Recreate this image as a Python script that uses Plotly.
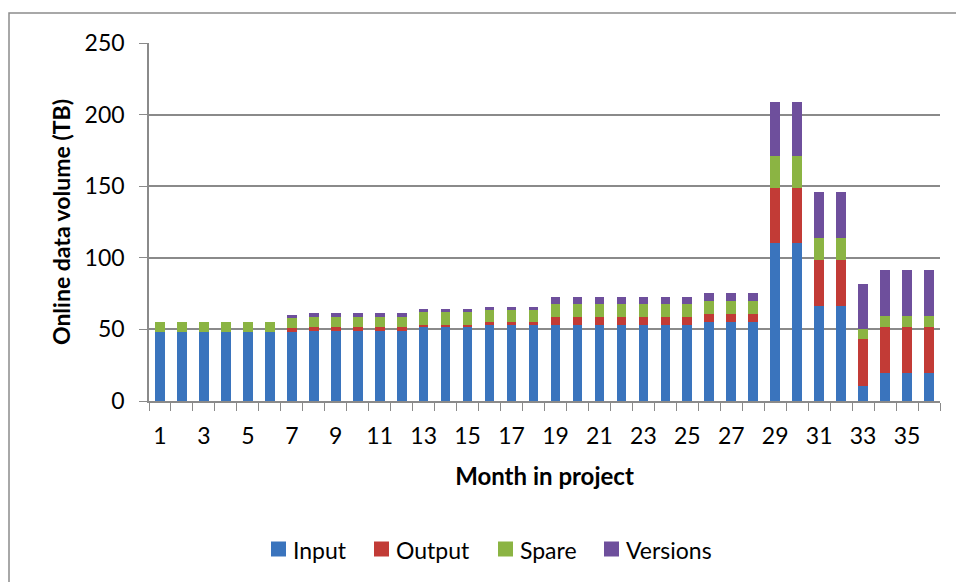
import plotly.graph_objects as go

# Monthly online storage broken down by data category (TB)
months = list(range(1, 37))

input_tb = [48.5] * 6 + [48.0] + [48.8] * 5 + [51.6] * 3 + [53.3] * 3 + [53.3] * 7 + [55.2] * 3 \
    + [110.0, 110.0, 66.6, 66.6, 10.4, 19.3, 19.3, 19.3]
output_tb = [0.0] * 6 + [2.8] + [2.8] * 5 + [1.7] * 3 + [1.6] * 3 + [5.1] * 7 + [5.4] * 3 \
    + [39.0, 39.0, 32.2, 32.2, 33.2, 32.2, 32.2, 32.2]
spare_tb = [6.5] * 6 + [7.0] + [7.0] * 5 + [8.8] * 3 + [8.8] * 3 + [9.0] * 7 + [9.0] * 3 \
    + [22.0, 22.0, 15.2, 15.2, 6.5, 8.1, 8.1, 8.1]
versions_tb = [0.0] * 6 + [2.6] + [2.6] * 5 + [1.9] * 3 + [1.9] * 3 + [5.4] * 7 + [6.0] * 3 \
    + [38.0, 38.0, 31.7, 31.7, 31.3, 31.6, 31.6, 31.6]

series_names = ["Input", "Output", "Spare", "Versions"]
series_values = [input_tb, output_tb, spare_tb, versions_tb]
series_colors = ["#3a74bd", "#c23b36", "#8bb443", "#6e4f9c"]

x_tick_labels = [str(m) for m in range(1, 37, 2)]
y_ticks = [0, 50, 100, 150, 200, 250]

FONT = "Lato, 'Open Sans', sans-serif"
GRID = "#8a8a8a"

fig = go.Figure()
for name, vals, color in zip(series_names, series_values, series_colors):
    fig.add_trace(go.Bar(
        x=months, y=vals, name=name,
        marker=dict(color=color, line=dict(width=0)),
        width=0.44, showlegend=False,
    ))

# Plot area spans 149..940 px horizontally and 43..401 px vertically
L, R, T, B = 149, 16, 43, 181
W, H = 956, 582
pw, ph = W - L - R, H - T - B


def px_x(px):
    return (px - L) / pw


def px_y(py):
    return (H - B - py) / ph


# Legend row below the axis: coloured square followed by its label
legend_marker_left = [271, 374, 498, 604]
legend_y = 549
shapes = []
annotations = []
for name, color, x0 in zip(series_names, series_colors, legend_marker_left):
    shapes.append(dict(
        type="rect", xref="paper", yref="paper",
        x0=px_x(x0), x1=px_x(x0 + 15), y0=px_y(legend_y + 7.5), y1=px_y(legend_y - 7.5),
        line=dict(width=0), fillcolor=color,
    ))
    annotations.append(dict(
        xref="paper", yref="paper", x=px_x(x0 + 20), y=px_y(legend_y + 1),
        xanchor="left", yanchor="middle", text=name, showarrow=False,
        font=dict(size=23, color="#000000"),
    ))

# Outer chart frame
shapes.append(dict(
    type="rect", xref="paper", yref="paper",
    x0=px_x(9), x1=px_x(975), y0=px_y(620), y1=px_y(13),
    line=dict(color="#8c8c8c", width=1.5), fillcolor="rgba(0,0,0,0)",
    layer="below",
))

fig.update_layout(
    width=W, height=H,
    margin=dict(l=L, r=R, t=T, b=B),
    paper_bgcolor="white", plot_bgcolor="white",
    barmode="stack",
    font=dict(family=FONT, size=23, color="#000000"),
    showlegend=False,
    xaxis=dict(
        range=[0.5, 36.5], tickvals=list(range(1, 37, 2)), ticktext=x_tick_labels,
        ticks="", showgrid=False, zeroline=False,
        showline=True, linecolor=GRID, linewidth=1.5,
        tickfont=dict(size=23), ticklabelstandoff=14,
        minor=dict(tick0=0.5, dtick=1, ticks="outside", ticklen=8,
                   tickcolor=GRID, tickwidth=1.2, showgrid=False),
        title=dict(text="<b>Month in project</b>", font=dict(size=24), standoff=20),
        fixedrange=True,
    ),
    yaxis=dict(
        range=[0, 250], tickvals=y_ticks,
        ticks="outside", ticklen=8, tickcolor=GRID, tickwidth=1.2,
        showgrid=True, gridcolor=GRID, gridwidth=1.5,
        zeroline=False, showline=True, linecolor=GRID, linewidth=1.5,
        tickfont=dict(size=23), ticklabelstandoff=10,
        title=dict(text="<b>Online data volume (TB)</b>", font=dict(size=23), standoff=8),
        fixedrange=True,
    ),
    shapes=shapes,
    annotations=annotations,
)

fig.write_html("out.html")
